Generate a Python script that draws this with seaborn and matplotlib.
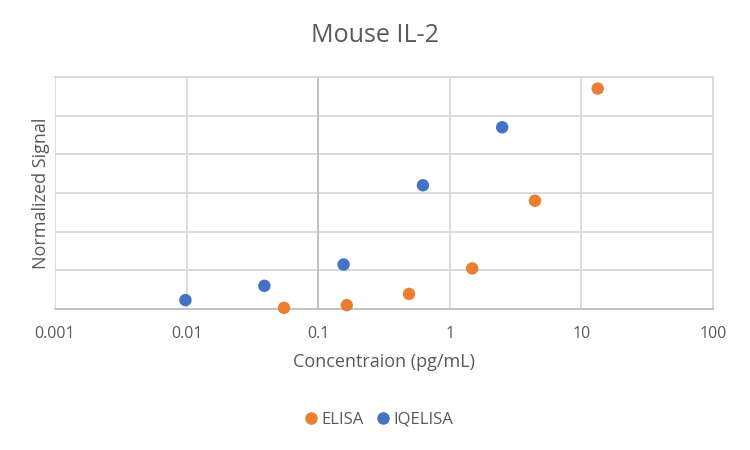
import matplotlib
matplotlib.use("Agg")
import matplotlib.pyplot as plt
import seaborn as sns
import pandas as pd

# values (x in pg/mL, y normalized signal)
elisa_conc = [0.055, 0.165, 0.49, 1.48, 4.44, 13.3]
elisa_signal = [0.006, 0.02, 0.078, 0.21, 0.56, 1.14]
iqelisa_conc = [0.0098, 0.039, 0.156, 0.625, 2.5]
iqelisa_signal = [0.046, 0.12, 0.23, 0.64, 0.94]

x_ticks = [0.001, 0.01, 0.1, 1, 10, 100]
x_tick_labels = ["0.001", "0.01", "0.1", "1", "10", "100"]

df = pd.DataFrame({
    "conc": elisa_conc + iqelisa_conc,
    "signal": elisa_signal + iqelisa_signal,
    "assay": ["ELISA"] * len(elisa_conc) + ["IQELISA"] * len(iqelisa_conc),
})

sns.set_style("white")
plt.rcParams["font.family"] = ["Open Sans", "DejaVu Sans"]

text_col = "#595959"
grid_col = "#D9D9D9"
axis_col = "#BFBFBF"

fig = plt.figure(figsize=(7.5, 4.5), dpi=100)
ax = fig.add_axes([0.0733, 0.3133, 0.8774, 0.5156])

sns.scatterplot(
    data=df, x="conc", y="signal", hue="assay",
    palette={"ELISA": "#ED7D31", "IQELISA": "#4472C4"},
    s=80, edgecolor="none", ax=ax, legend=False, zorder=3, clip_on=False,
)

ax.set_xscale("log")
ax.set_xlim(0.001, 100)
ax.set_ylim(0, 1.2)
ax.set_xticks(x_ticks)
ax.set_xticklabels(x_tick_labels)
ax.minorticks_off()
ax.set_yticks([0, 0.2, 0.4, 0.6, 0.8, 1.0, 1.2])
ax.set_yticklabels([])

ax.grid(True, color=grid_col, linewidth=1.3)
ax.set_axisbelow(True)

for side in ["top", "right"]:
    ax.spines[side].set_color(grid_col)
    ax.spines[side].set_linewidth(1.3)
ax.spines["bottom"].set_color(axis_col)
ax.spines["bottom"].set_linewidth(1.3)
ax.spines["left"].set_position(("data", 0.1))
ax.spines["left"].set_color(axis_col)
ax.spines["left"].set_linewidth(1.3)
ax.spines["left"].set_zorder(2)

ax.tick_params(axis="x", length=0, pad=12, labelsize=11.5, labelcolor=text_col)
ax.tick_params(axis="y", direction="out", length=5, width=1.3, color=axis_col)

ax.set_xlabel("Concentraion (pg/mL)", fontsize=13, color=text_col, labelpad=8)
ax.set_ylabel("Normalized Signal", fontsize=13, color=text_col)
ax.yaxis.set_label_coords(-0.008, 0.5)

fig.suptitle("Mouse IL-2", x=0.5, y=0.95, fontsize=18, color=text_col)

handles = [
    plt.Line2D([], [], marker="o", linestyle="", color="#ED7D31", markersize=8, label="ELISA"),
    plt.Line2D([], [], marker="o", linestyle="", color="#4472C4", markersize=8, label="IQELISA"),
]
leg = fig.legend(handles=handles, loc="center", bbox_to_anchor=(0.505, 0.067), ncol=2,
                 frameon=False, fontsize=12, handlelength=0.8, handletextpad=0.2,
                 columnspacing=0.8)
for t in leg.get_texts():
    t.set_color(text_col)

fig.savefig("out.png", dpi=100)
